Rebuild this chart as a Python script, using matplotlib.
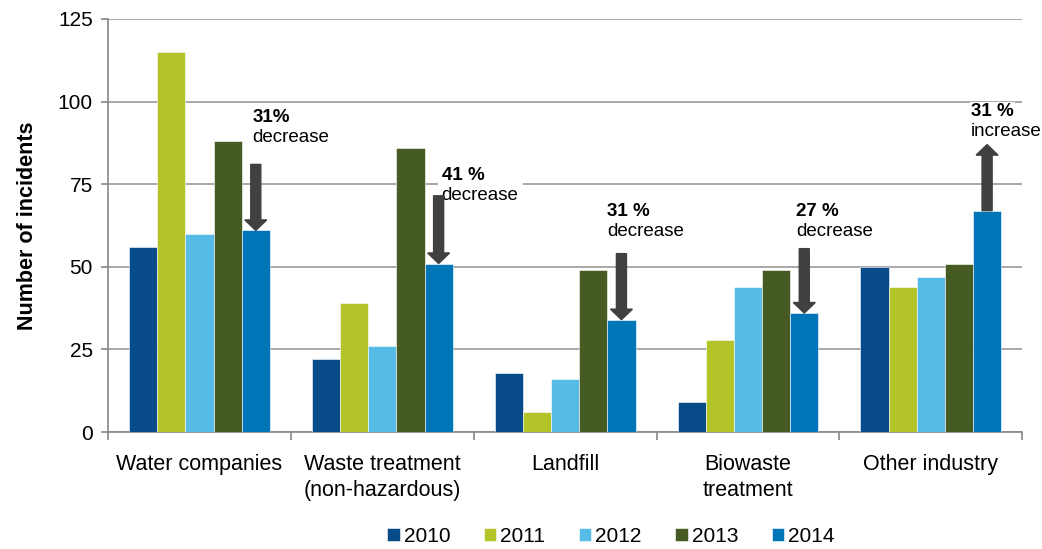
import numpy as np
import matplotlib.pyplot as plt
from matplotlib.patches import FancyArrow

plt.rcParams['font.family'] = ['Liberation Sans', 'DejaVu Sans']

categories = ['Water companies', 'Waste treatment\n(non-hazardous)', 'Landfill',
              'Biowaste\ntreatment', 'Other industry']
years = ['2010', '2011', '2012', '2013', '2014']
colors = ['#074c89', '#b3c428', '#56bbe6', '#465b23', '#0076b8']

v2010 = [56, 22, 18, 9, 50]
v2011 = [115, 39, 6, 28, 44]
v2012 = [60, 26, 16, 44, 47]
v2013 = [88, 86, 49, 49, 51]
v2014 = [61, 51, 34, 36, 67]
series = [v2010, v2011, v2012, v2013, v2014]

# annotation: percent, word, arrow start / end value
pcts = ['31%', '41 %', '31 %', '27 %', '31 %']
words = ['decrease', 'decrease', 'decrease', 'decrease', 'increase']
arrow_from = [81, 71.5, 54, 55.5, 67]
arrow_to = [61, 51, 34, 36, 87]

fig = plt.figure(figsize=(10.42, 5.49), dpi=100)
ax = fig.add_axes([0.1037, 0.213, 0.8773, 0.7524])

x = np.arange(len(categories))
w = 0.154
for i, (vals, c, yr) in enumerate(zip(series, colors, years)):
    ax.bar(x + (i - 2) * w, vals, w, color=c, label=yr, zorder=3,
           edgecolor='white', linewidth=0.4)

ax.set_ylim(0, 125)
ax.set_xlim(-0.5, 4.5)
ax.set_yticks([0, 25, 50, 75, 100, 125])
ax.yaxis.grid(True, color='#999999', linewidth=1.2, zorder=0)
ax.tick_params(axis='y', labelsize=15, length=5, color='#888888', width=1.2, pad=6)
ax.set_xticks(x)
ax.set_xticklabels(categories, fontsize=15.5, linespacing=1.3)
ax.tick_params(axis='x', length=0, pad=16)
ax.set_xticks(np.arange(-0.5, 5, 1), minor=True)
ax.tick_params(axis='x', which='minor', length=6, color='#888888', width=1.2)
for s in ['top', 'right']:
    ax.spines[s].set_visible(False)
for s in ['left', 'bottom']:
    ax.spines[s].set_color('#888888')
    ax.spines[s].set_linewidth(1.2)
ax.set_ylabel('Number of incidents', fontsize=15.5, fontweight='bold', labelpad=14)

xt = [0.29, 1.325, 2.23, 3.265, 4.22]
yt = [95.2, 77.6, 66.7, 66.7, 97]
for i in range(5):
    ax.text(xt[i], yt[i], pcts[i], fontsize=13.5, fontweight='bold', va='center',
            zorder=5, bbox=dict(facecolor='white', edgecolor='none', pad=1))
    ax.text(xt[i], yt[i] - 6.1, words[i], fontsize=13.5, va='center', zorder=5,
            bbox=dict(facecolor='white', edgecolor='none', pad=3))
    xa = x[i] + 2 * w
    dy = arrow_to[i] - arrow_from[i]
    ax.add_patch(FancyArrow(xa, arrow_from[i], 0, dy, width=0.055, head_width=0.12,
                            head_length=3.2, length_includes_head=True,
                            color='#404040', zorder=6))

ax.legend(loc='center', bbox_to_anchor=(0.55, -0.252), ncol=5, frameon=False,
          fontsize=15, handlelength=0.6, handleheight=0.6, handletextpad=0.2,
          columnspacing=1.6, borderpad=0.2)

fig.savefig('out.png', dpi=100)
